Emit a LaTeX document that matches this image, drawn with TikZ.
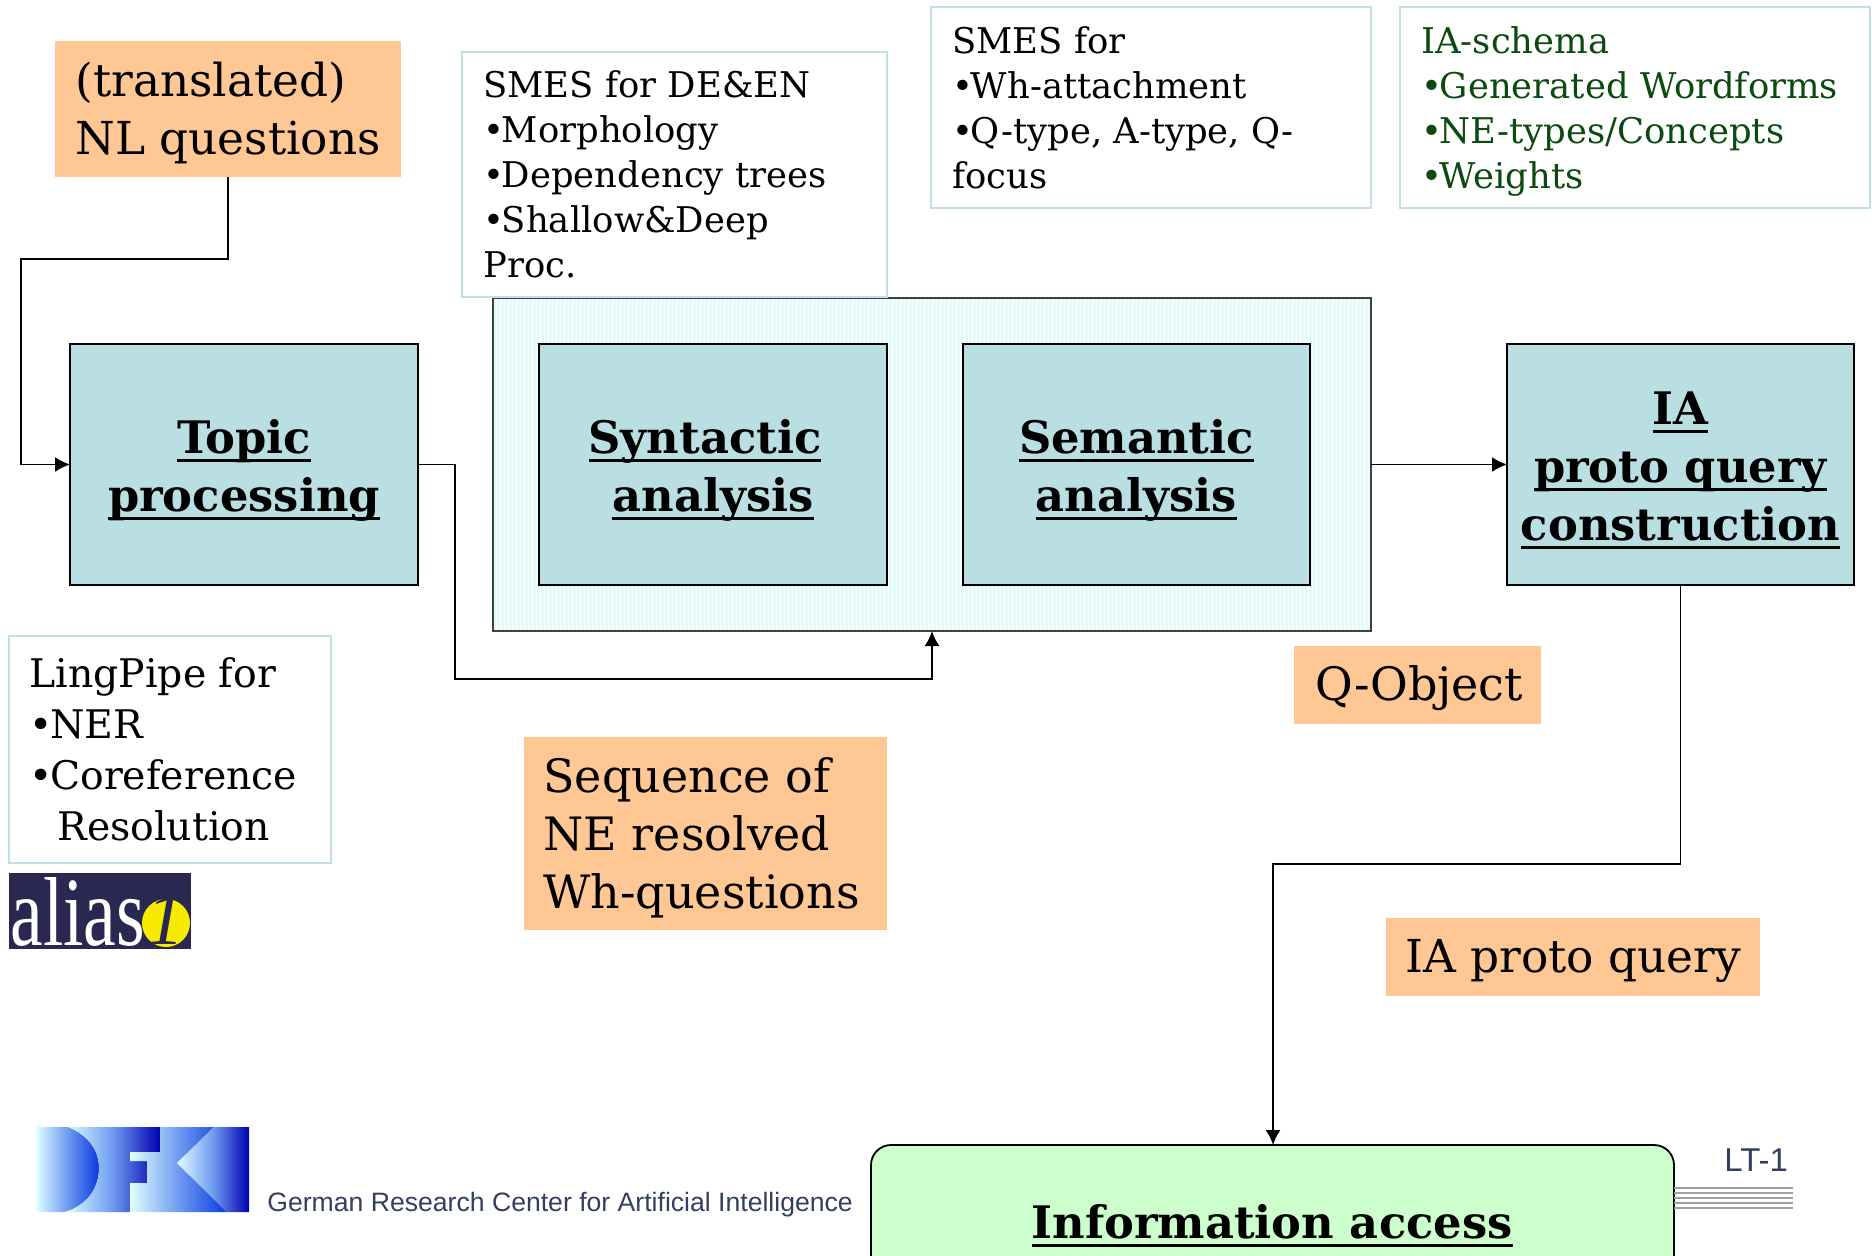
\documentclass[tikz,border=0pt]{standalone}
\usepackage{fontspec}
\setmainfont{DejaVu Serif}
\newfontfamily\sansf{Liberation Sans}
\newfontfamily\logof{Liberation Serif}
\usetikzlibrary{arrows.meta}
\definecolor{boxteal}{HTML}{B9DFE2}
\definecolor{paleedge}{HTML}{BFE0E4}
\definecolor{orangebox}{HTML}{FFC793}
\definecolor{greenbox}{HTML}{CCFFCC}
\definecolor{darkgreentext}{HTML}{0B4A10}
\definecolor{slatetext}{HTML}{333F5F}
\definecolor{panelfill}{HTML}{E4FBFB}
\definecolor{aliasnavy}{HTML}{2A2850}
\definecolor{aliasyellow}{HTML}{F7EC00}
\definecolor{dpale}{HTML}{E0FFFF}
\definecolor{dmid}{HTML}{6F9BF0}
\definecolor{dblue}{HTML}{0A3BE0}
\definecolor{dnavy}{HTML}{0000B0}
\definecolor{ruleline}{HTML}{A0A0A0}
\newcommand{\ulb}[1]{\leavevmode\setbox0\hbox{#1}\rlap{\raisebox{-4.4pt}{\rule{\wd0}{1.5pt}}}\box0}
\newcommand{\bul}{•\kern-1.2pt}
\tikzset{
  x=0.5pt,y=-0.5pt,
  bx/.style={anchor=north west,inner sep=0pt,outer sep=0pt},
  notebox/.style={bx,draw=paleedge,line width=1pt,fill=white},
  orangelab/.style={bx,fill=orangebox},
  procbox/.style={bx,draw=black,line width=0.8pt,fill=boxteal},
  proctext/.style={inner sep=0pt,align=center,font=\fontsize{22.4}{29}\selectfont\bfseries},
  link/.style={draw=black,line width=0.85pt},
  arr/.style={link,-{Latex[length=7.5pt,width=7.5pt]}},
  txt/.style={anchor=north west,inner sep=0pt,align=left},
  notetext/.style={txt,font=\fontsize{17.7}{22.5}\selectfont}
}
\begin{document}
\begin{tikzpicture}
\useasboundingbox (0,0) rectangle (1872,1256);
% orange question box
\node[orangelab,minimum width=173pt,minimum height=68pt] (nlq) at (55,41) {};
\node[txt,font=\fontsize{22.7}{29}\selectfont] (nlqt) at (75,62) {(translated)\\NL questions};
% panel
\node[bx,draw=black!75,line width=0.7pt,fill=panelfill,minimum width=439pt,minimum height=166.5pt] (panel) at (493,298) {};
\draw[white,line width=0.4pt,xstep=4,ystep=4] (495,300) grid (1369,629);
% notes
\node[notebox,minimum width=212.5pt,minimum height=122.5pt] (n1) at (462,52) {};
\node[notetext] (n1t) at (483,70) {SMES for DE\&EN\\\bul Morphology\\\bul Dependency trees\\\bul Shallow\&Deep\\Proc.};
\node[notebox,minimum width=220pt,minimum height=100.5pt] (n2) at (931,7) {};
\node[notetext] (n2t) at (952,26) {SMES for\\\bul Wh-attachment\\\bul Q-type, A-type, Q-\\focus};
\node[notebox,minimum width=235pt,minimum height=100.5pt] (n3) at (1400,7) {};
\node[notetext,text=darkgreentext] (n3t) at (1421,26) {IA-schema\\\bul Generated Wordforms\\\bul NE-types/Concepts\\\bul Weights};
\node[notebox,minimum width=161pt,minimum height=113.5pt] (n4) at (9,636) {};
\node[txt,font=\fontsize{19.7}{25.6}\selectfont] (n4t) at (29,657) {LingPipe for\\\bul NER\\\bul Coreference\\\hspace*{14pt}Resolution};
% process boxes
\node[procbox,minimum width=174pt,minimum height=120.5pt] (topic) at (70,344) {};
\node[proctext] (topict) at ([yshift=-3pt]topic.center) {\ulb{Topic}\\\ulb{processing}};
\node[procbox,minimum width=174pt,minimum height=120.5pt] (syn) at (539,344) {};
\node[proctext] (synt) at ([yshift=-3pt]syn.center) {\ulb{Syntactic}\hspace*{8pt}\\\ulb{analysis}};
\node[procbox,minimum width=173.5pt,minimum height=120.5pt] (sem) at (963,344) {};
\node[proctext] (semt) at ([yshift=-3pt]sem.center) {\ulb{Semantic}\\\ulb{analysis}};
\node[procbox,minimum width=173.5pt,minimum height=120.5pt] (ia) at (1507,344) {};
\node[proctext] (iat) at ([yshift=-3pt]ia.center) {\ulb{IA}\\\ulb{proto query}\\\ulb{construction}};
\node[bx,fill=greenbox,draw=black,line width=0.9pt,rounded corners=10pt,minimum width=401.5pt,minimum height=80pt] (info) at (871,1145) {};
\node[proctext] (infot) at (1272,1226) {\ulb{Information access}};
% orange labels
\node[orangelab,minimum width=123.5pt,minimum height=39pt] (qobj) at (1294,646) {};
\node[txt,font=\fontsize{23}{27}\selectfont] (qobjt) at (1315,665) {Q-Object};
\node[orangelab,minimum width=181.5pt,minimum height=96.5pt] (seq) at (524,737) {};
\node[txt,font=\fontsize{23}{29}\selectfont] (seqt) at (543,757) {Sequence of\\NE resolved\\Wh-questions};
\node[orangelab,minimum width=187pt,minimum height=39pt] (ipq) at (1386,918) {};
\node[txt,font=\fontsize{22.7}{27}\selectfont] (ipqt) at (1405,939) {IA proto query};
% connectors
\coordinate (c1) at (228,259);
\coordinate (c2) at (21,259);
\coordinate (c3) at (21,464.5);
\draw[arr] (nlq.south) -- (c1) -- (c2) -- (c3) -- (topic.west);
\coordinate (c4) at (455,464.5);
\coordinate (c5) at (455,679);
\coordinate (c6) at (932,679);
\coordinate (c7) at (932,631);
\draw[arr] (topic.east) -- (c4) -- (c5) -- (c6) -- (c7);
\draw[arr] (panel.east) -- (ia.west);
\coordinate (c8) at (1680.5,864);
\coordinate (c9) at (1273,864);
\draw[arr] (ia.south) -- (c8) -- (c9) -- (c9 |- info.north);
% alias logo
\fill[aliasnavy] (9,873) rectangle (191,949);
\fill[aliasyellow] (166,923) circle[radius=24];
\node[anchor=base west,inner sep=0pt,text=white,font=\logof\fontsize{49}{49}\selectfont] (aliast) at (10,945) {\scalebox{0.75}[1]{alias}};
\node[anchor=base,inner sep=0pt,text=aliasnavy,font=\logof\itshape\fontsize{38}{38}\selectfont] (aliasone) at (165,944) {1};
% DFKI logo
\shade[left color=dpale,right color=dblue,middle color=dmid] (36,1127) -- (68,1127) .. controls (88,1135) and (99,1150) .. (99,1168) .. controls (99,1190) and (85,1206) .. (65,1212) -- (36,1212) -- cycle;
\shade[left color=dpale,right color=dnavy,middle color=dmid] (68,1127) -- (160,1127) -- (160,1152) -- (130,1152) -- (130,1161) -- (147,1161) -- (147,1183) -- (130,1183) -- (130,1212) -- (65,1212) .. controls (85,1206) and (99,1190) .. (99,1168) .. controls (99,1150) and (88,1135) .. (68,1127) -- cycle;
\shade[left color=dpale,right color=dblue,middle color=dmid] (160,1127) -- (214,1127) -- (177,1163) -- (227,1212) -- (130,1212) -- (130,1183) -- (147,1183) -- (147,1161) -- (130,1161) -- (130,1152) -- (160,1152) -- cycle;
\shade[left color=dpale,right color=dnavy,middle color=dmid] (214,1127) -- (249,1127) -- (249,1212) -- (227,1212) -- (177,1163) -- cycle;
% footer
\node[anchor=base west,inner sep=0pt,text=slatetext,font=\sansf\fontsize{13.3}{16}\selectfont] (footer) at (267,1211) {German Research Center for Artificial Intelligence};
\node[anchor=base west,inner sep=0pt,text=slatetext,font=\sansf\fontsize{16.5}{18}\selectfont] (lt) at (1724,1171) {LT-1};
\foreach \yy in {1188,1193,1198,1203,1208} \draw[ruleline,line width=1pt] (1674,\yy) -- (1793,\yy);
\end{tikzpicture}
\end{document}
